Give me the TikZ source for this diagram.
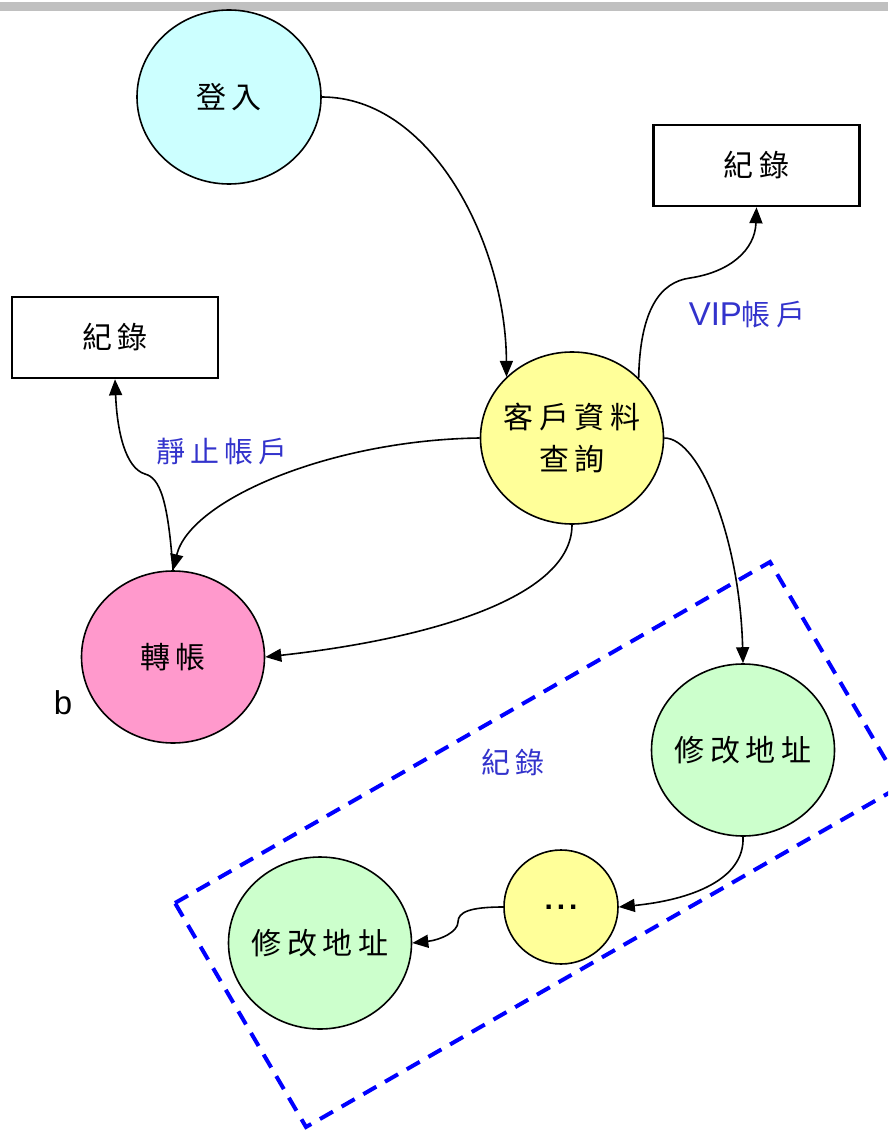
\documentclass[tikz,border=0pt]{standalone}
\usepackage{fontspec}
\setmainfont{Liberation Sans}
\newfontfamily\cjk[LetterSpace=18]{Noto Sans CJK TC}
\usetikzlibrary{shapes.geometric,arrows.meta}
\definecolor{loginfill}{HTML}{CCFFFF}
\definecolor{yellowfill}{HTML}{FFFF99}
\definecolor{pinkfill}{HTML}{FF99CC}
\definecolor{greenfill}{HTML}{CCFFCC}
\definecolor{labelblue}{HTML}{3333CC}
\definecolor{bargray}{HTML}{C0C0C0}
\definecolor{dashblue}{HTML}{0000FF}
\tikzset{
  oval/.style={ellipse, draw=black, line width=1.6pt, inner xsep=-25pt, inner ysep=0pt, align=center,
    font={\cjk\fontsize{30}{42}\selectfont}},
  bigoval/.style={oval, minimum width=183pt, minimum height=172pt},
  recbox/.style={rectangle, draw=black, line width=2.6pt, inner sep=0pt,
    minimum width=206pt, minimum height=81pt, font={\cjk\fontsize{30}{42}\selectfont}},
  conn/.style={draw=black, line width=1.6pt, -{Triangle[length=16pt,width=13pt]}},
  bluelabel/.style={text=labelblue, inner sep=0pt, font={\cjk\fontsize{29}{36}\selectfont}},
  regionbox/.style={draw=dashblue, line width=4pt, dash pattern=on 15pt off 10pt}
}
\begin{document}
\begin{tikzpicture}[x=1pt,y=-1pt]
\useasboundingbox (0,0) rectangle (888,1131);
\fill[white] (0,0) rectangle (888,1131);
\fill[bargray] (0,2) rectangle (888,11);

% dashed region
\begin{scope}
\clip (0,0) rectangle (888,1131);
\draw[regionbox] (175,903) -- (770,562) -- (901,786) -- (306,1127) -- cycle;
\end{scope}

% nodes
\node[oval, fill=loginfill, minimum width=184pt, minimum height=174pt] (login) at (229,97) {登入};
\node[recbox] (logtop) at (756.5,165.5) {紀錄};
\node[recbox] (logleft) at (115,337.5) {紀錄};
\node[bigoval, fill=yellowfill] (query) at (572,438) {客戶資料\\查詢};
\node[bigoval, fill=pinkfill] (transfer) at (173,657) {轉帳};
\node[bigoval, fill=greenfill] (addrA) at (743,750) {修改地址};
\node[oval, fill=yellowfill, inner xsep=0pt, minimum width=114pt, minimum height=114pt,
      font={\fontsize{30}{30}\selectfont}] (dots) at (561,907) {\textbf{.\kern4pt.\kern4pt.}};
\node[bigoval, fill=greenfill] (addrB) at (320,943) {修改地址};

% labels
\node[bluelabel] (vip) at (747,315) {{\fontspec{Liberation Sans}\fontsize{33}{36}\selectfont VIP}帳戶};
\node[bluelabel] (dormant) at (222,452) {靜止帳戶};
\node[bluelabel] (reclabel) at (513,762) {紀錄};
\node[inner sep=0pt, font={\fontsize{33}{36}\selectfont}] (bmark) at (63,703) {b};

% connectors
\draw[conn] (login.east) .. controls (432,97) and (506,245) .. (query.137);
\draw[conn] (query.42) .. controls (640,310) and (660,282) .. (690,278)
            .. controls (730,272) and (755,250) .. (logtop.south);
\draw[conn] (transfer.north) .. controls (168,500) and (160,478) .. (145,474)
            .. controls (125,468) and (117,430) .. (logleft.south);
\draw[conn] (query.west) .. controls (330,440) and (190,500) .. (transfer.north);
\draw[conn] (query.south) .. controls (572,600) and (420,640) .. (transfer.east);
\draw[conn] (query.east) .. controls (700,438) and (740,540) .. (addrA.north);
\draw[conn] (addrA.south) .. controls (745,880) and (690,900) .. (dots.east);
\draw[conn] (dots.west) .. controls (470,907) and (458,912) .. (458,922)
            .. controls (458,932) and (440,940) .. (addrB.east);
\end{tikzpicture}
\end{document}
